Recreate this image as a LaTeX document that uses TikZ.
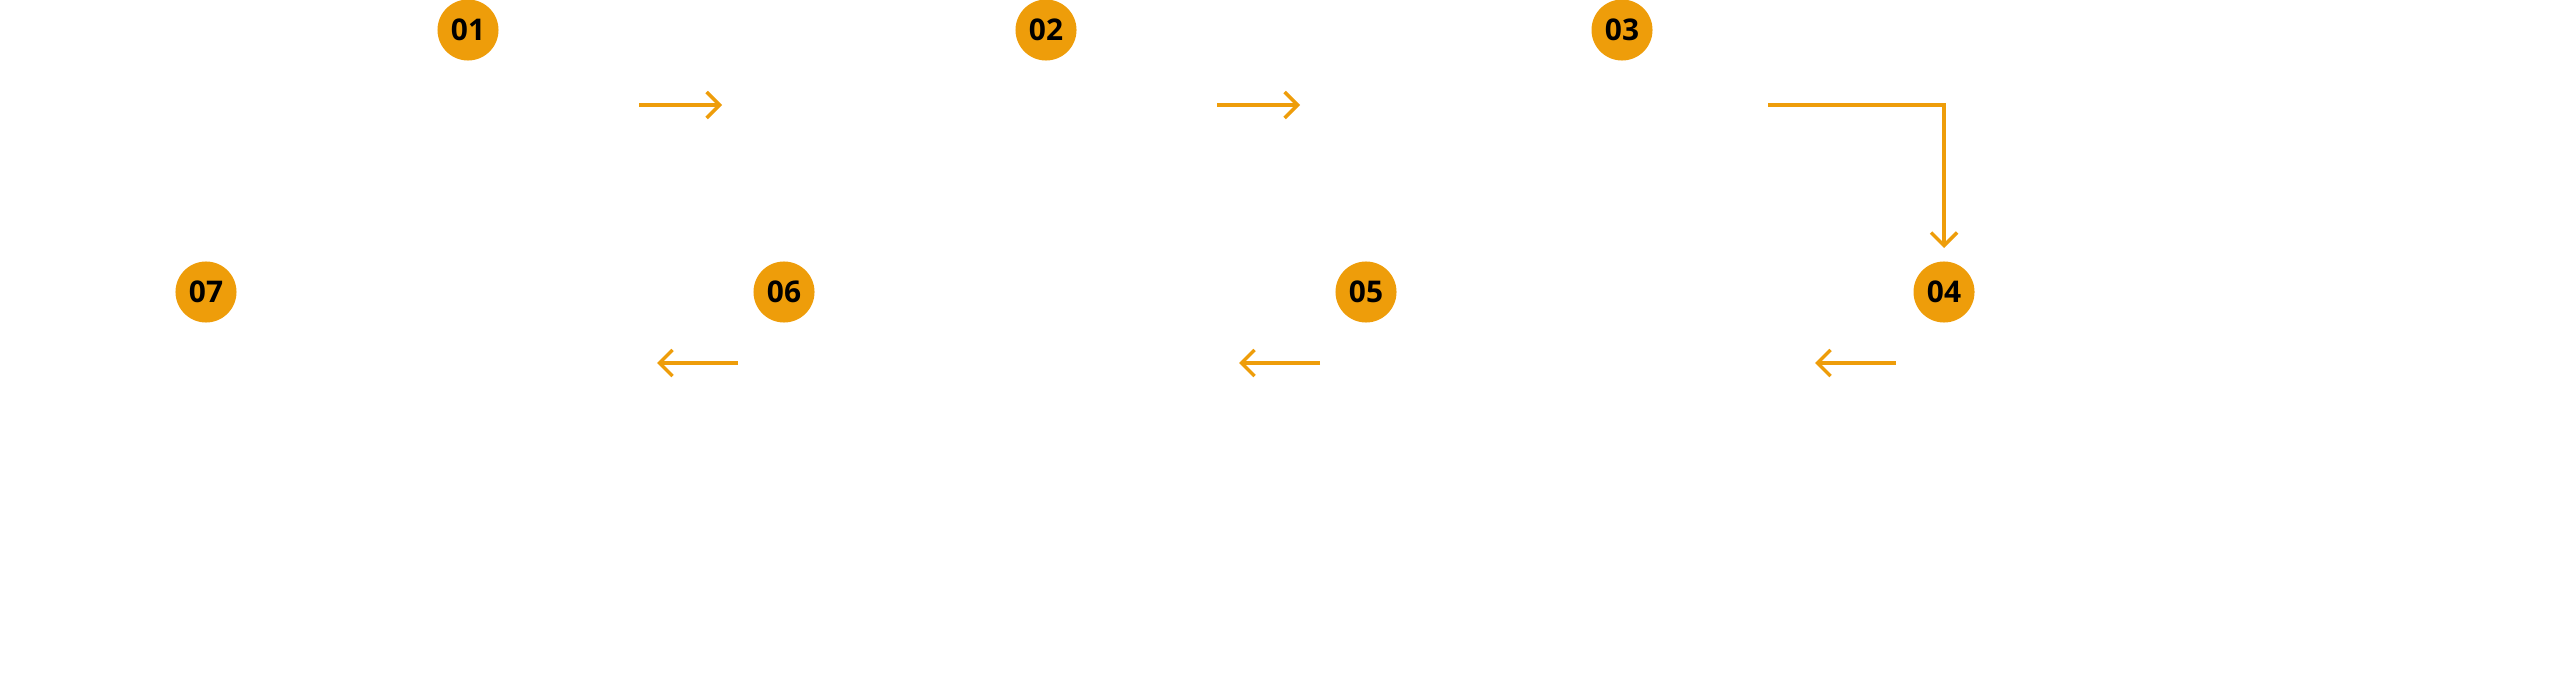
\documentclass[tikz,border=0pt]{standalone}
\usepackage{fontspec}
\setmainfont{Open Sans}
\usetikzlibrary{arrows.meta}
\definecolor{org}{HTML}{EE9D0A}
\begin{document}
\begin{tikzpicture}[x=0.01cm,y=-0.01cm,
  num/.style={circle,fill=org,minimum size=0.61cm,inner sep=0pt,font=\bfseries\fontsize{8.5pt}{10pt}\selectfont},
  arr/.style={org,line width=1pt,-{Straight Barb[length=1.3mm,width=2.6mm,line width=1pt]}}]
\useasboundingbox (0,0) rectangle (2560,700);
\node[num] (n1) at (468,30) {01};
\node[num] (n2) at (1046,30) {02};
\node[num] (n3) at (1622,30) {03};
\node[num] (n4) at (1944,292) {04};
\node[num] (n5) at (1366,292) {05};
\node[num] (n6) at (784,292) {06};
\node[num] (n7) at (206,292) {07};
\coordinate (a1s) at (639,105); \coordinate (a1e) at (722,105);
\coordinate (a2s) at (1217,105); \coordinate (a2e) at (1300,105);
\coordinate (a3s) at (1768,105); \coordinate (a3e) at (1944,248);
\coordinate (a4s) at (1896,363); \coordinate (a4e) at (1815,363);
\coordinate (a5s) at (1320,363); \coordinate (a5e) at (1239,363);
\coordinate (a6s) at (738,363); \coordinate (a6e) at (657,363);
\draw[arr] (a1s) -- (a1e);
\draw[arr] (a2s) -- (a2e);
\draw[arr] (a3s) -| (a3e);
\draw[arr] (a4s) -- (a4e);
\draw[arr] (a5s) -- (a5e);
\draw[arr] (a6s) -- (a6e);
\end{tikzpicture}
\end{document}
